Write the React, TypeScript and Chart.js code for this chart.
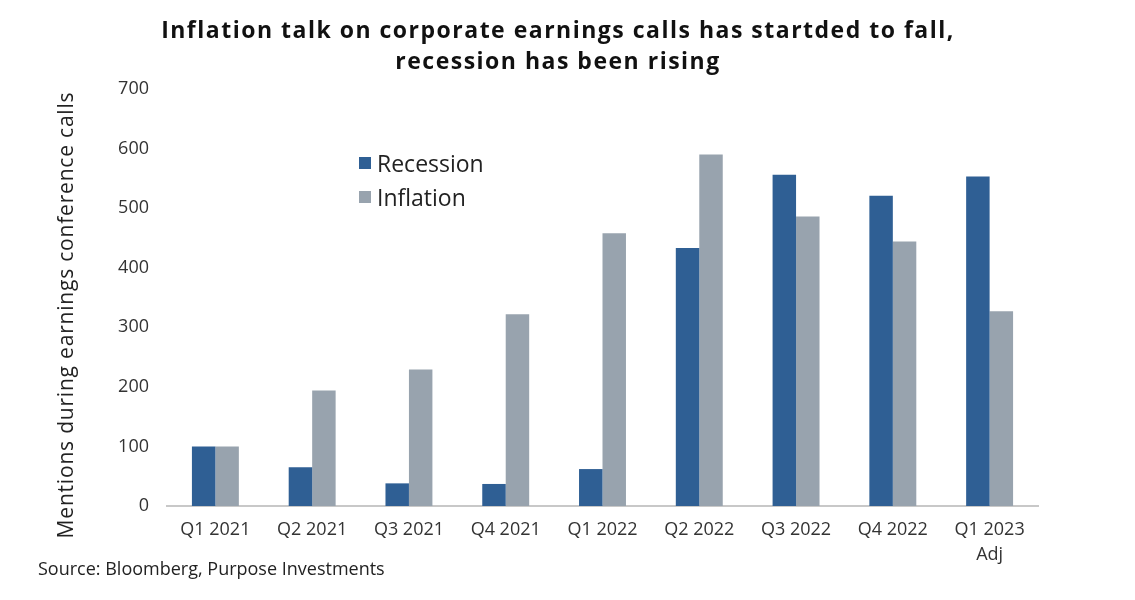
import { useEffect, useRef } from "react";
import { Chart, registerables } from "chart.js";

Chart.register(...registerables);

const quarters = [
  "Q1 2021",
  "Q2 2021",
  "Q3 2021",
  "Q4 2021",
  "Q1 2022",
  "Q2 2022",
  "Q3 2022",
  "Q4 2022",
  ["Q1 2023", "Adj"],
];
const recession = [100, 65, 38, 37, 62, 433, 556, 521, 553];
const inflation = [100, 194, 229, 322, 458, 590, 486, 444, 327];
const yTicks = [0, 100, 200, 300, 400, 500, 600, 700];

const FONT = "'Open Sans', sans-serif";
const series = [
  { label: "Recession", data: recession, color: "#2f5f94" },
  { label: "Inflation", data: inflation, color: "#98a3ae" },
];
const titleLines = [
  "Inflation talk on corporate earnings calls has startded to fall,",
  "recession has been rising",
];
const yTitle = "Mentions during earnings conference calls";

export default function App() {
  const canvasRef = useRef<HTMLCanvasElement>(null);
  const chartRef = useRef<Chart | null>(null);

  useEffect(() => {
    document.body.style.margin = "0";
    if (!canvasRef.current) return;
    chartRef.current?.destroy();

    chartRef.current = new Chart(canvasRef.current, {
      type: "bar",
      data: {
        labels: quarters,
        datasets: series.map((s) => ({
          label: s.label,
          data: s.data,
          backgroundColor: s.color,
          borderWidth: 0,
          barPercentage: 1,
          categoryPercentage: 0.485,
        })),
      },
      options: {
        responsive: false,
        animation: false,
        layout: { padding: { left: 40, right: 97, bottom: 10, top: 89 } },
        plugins: {
          legend: { display: false },
          tooltip: { enabled: false },
          title: { display: false },
        },
        scales: {
          x: {
            grid: { display: false, drawTicks: false },
            border: { color: "#c8c8c8", width: 2 },
            ticks: {
              color: "#333",
              font: { family: FONT, size: 18, lineHeight: 1.35 },
              padding: 12,
              maxRotation: 0,
              autoSkip: false,
            },
            afterFit: (s: any) => {
              s.height = 600 - 506 - 10;
            },
          },
          y: {
            min: 0,
            max: 700,
            afterBuildTicks: (s: any) => {
              s.ticks = yTicks.map((v) => ({ value: v }));
            },
            grid: { display: false, drawTicks: false },
            border: { display: false },
            ticks: {
              color: "#333",
              font: { family: FONT, size: 18 },
              padding: 18,
            },
            afterFit: (s: any) => {
              s.width = 127;
            },
          },
        },
      },
    });

    return () => {
      chartRef.current?.destroy();
      chartRef.current = null;
    };
  }, []);

  return (
    <div style={{ position: "relative", width: 1135, height: 600, background: "#fff", fontFamily: FONT, overflow: "hidden" }}>
      <canvas ref={canvasRef} width={1135} height={600} style={{ display: "block" }} />
      <div
        style={{
          position: "absolute",
          left: 558 - 500,
          width: 1000,
          top: 14,
          textAlign: "center",
          fontSize: 23,
          fontWeight: 700,
          letterSpacing: 1.5,
          lineHeight: "31px",
          color: "#111",
        }}
      >
        {titleLines.map((t) => (
          <div key={t}>{t}</div>
        ))}
      </div>
      <div
        style={{
          position: "absolute",
          left: 65 - 300,
          top: 315 - 15,
          width: 600,
          height: 30,
          lineHeight: "30px",
          textAlign: "center",
          transform: "rotate(-90deg)",
          fontSize: 21,
          letterSpacing: 0.8,
          color: "#222",
          whiteSpace: "nowrap",
        }}
      >
        {yTitle}
      </div>
      <div style={{ position: "absolute", left: 359, top: 146 }}>
        {series.map((s) => (
          <div key={s.label} style={{ display: "flex", alignItems: "center", height: 34, fontSize: 23, color: "#222" }}>
            <span style={{ width: 12, height: 12, background: s.color, marginRight: 6, display: "inline-block" }} />
            {s.label}
          </div>
        ))}
      </div>
      <div style={{ position: "absolute", left: 38, top: 556, fontSize: 18, color: "#222" }}>
        Source: Bloomberg, Purpose Investments
      </div>
    </div>
  );
}
